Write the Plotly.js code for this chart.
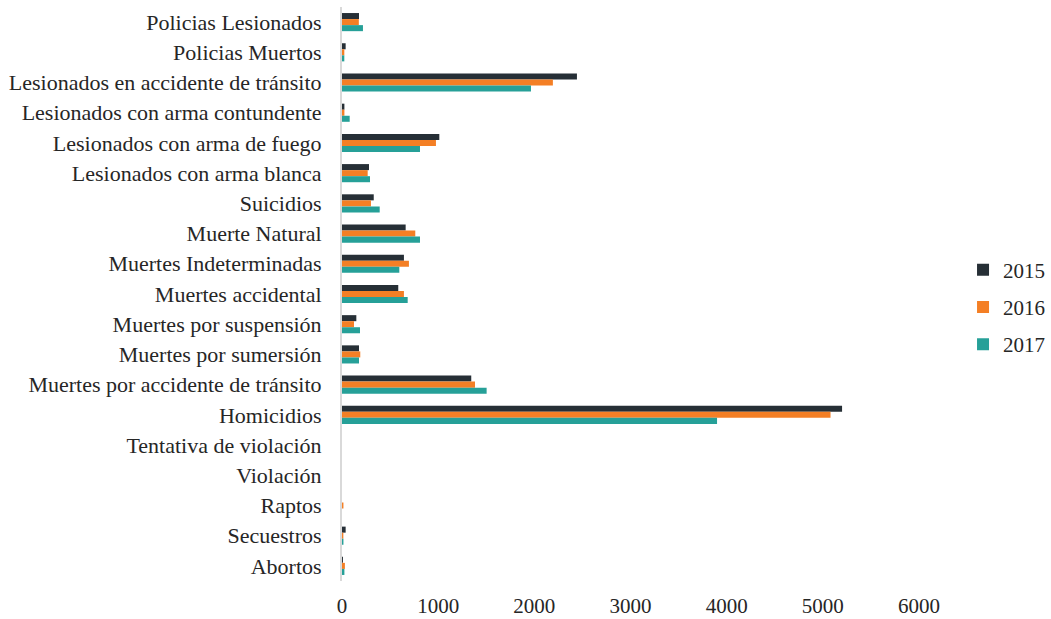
<!DOCTYPE html>
<html>
<head>
<meta charset="utf-8">
<script src="https://cdn.plot.ly/plotly-3.0.1.min.js"></script>
<style>html,body{margin:0;padding:0;background:#fff;}#chart{width:1051px;height:619px;}</style>
</head>
<body>
<div id="chart"></div>
<script>
// Categories, top to bottom as shown
const categories = [
  "Policias Lesionados",
  "Policias Muertos",
  "Lesionados en accidente de tránsito",
  "Lesionados con arma contundente",
  "Lesionados con arma de fuego",
  "Lesionados con arma blanca",
  "Suicidios",
  "Muerte Natural",
  "Muertes Indeterminadas",
  "Muertes accidental",
  "Muertes por suspensión",
  "Muertes por sumersión",
  "Muertes por accidente de tránsito",
  "Homicidios",
  "Tentativa de violación",
  "Violación",
  "Raptos",
  "Secuestros",
  "Abortos"
];
const values2015 = [177, 38, 2443, 25, 1012, 281, 330, 662, 644, 585, 149, 177, 1344, 5200, 0, 0, 0, 38, 10];
const values2016 = [175, 24, 2193, 25, 977, 267, 301, 762, 696, 644, 125, 190, 1383, 5080, 0, 0, 15, 14, 30];
const values2017 = [218, 24, 1965, 80, 811, 291, 392, 811, 596, 683, 187, 177, 1504, 3900, 0, 0, 0, 15, 25];
const seriesNames = ["2015", "2016", "2017"];
const xTicks = [0, 1000, 2000, 3000, 4000, 5000, 6000];

const colors = ["#262f36", "#f47f25", "#26a098"];
const seriesValues = [values2015, values2016, values2017];

const traces = seriesValues.map((vals, i) => ({
  type: "bar",
  orientation: "h",
  name: seriesNames[i],
  legendgroup: "g" + i,
  x: vals,
  y: categories,
  marker: {color: colors[i], line: {width: 0}},
  hoverinfo: "x+y+name"
}));

const font = "Liberation Serif";

const layout = {
  width: 1051,
  height: 619,
  margin: {l: 342, r: 132, t: 7, b: 38, autoexpand: false},
  paper_bgcolor: "#ffffff",
  plot_bgcolor: "#ffffff",
  barmode: "group",
  bargap: 0.4,
  bargroupgap: 0,
  font: {family: font, size: 21, color: "#262626"},
  xaxis: {
    range: [0, 6000],
    tickvals: xTicks,
    ticktext: xTicks.map(String),
    showgrid: false,
    zeroline: false,
    showline: false,
    ticks: "outside",
    ticklen: 6,
    tickcolor: "rgba(0,0,0,0)",
    tickfont: {family: font, size: 21, color: "#262626"},
    fixedrange: true
  },
  yaxis: {
    type: "category",
    categoryorder: "array",
    categoryarray: categories,
    autorange: "reversed",
    showgrid: false,
    zeroline: false,
    showline: true,
    linecolor: "#d9d9d9",
    linewidth: 2,
    ticks: "outside",
    ticklen: 14,
    tickcolor: "rgba(0,0,0,0)",
    tickfont: {family: font, size: 22, color: "#262626"},
    fixedrange: true
  },
  showlegend: true,
  legend: {
    xref: "container",
    yref: "container",
    x: 0.9163,
    xanchor: "left",
    y: 0.504,
    yanchor: "middle",
    traceorder: "grouped",
    tracegroupgap: 7,
    font: {family: font, size: 21, color: "#262626"},
    bgcolor: "rgba(0,0,0,0)",
    itemwidth: 30
  }
};

Plotly.newPlot("chart", traces, layout, {displayModeBar: false, staticPlot: true});
</script>
</body>
</html>
